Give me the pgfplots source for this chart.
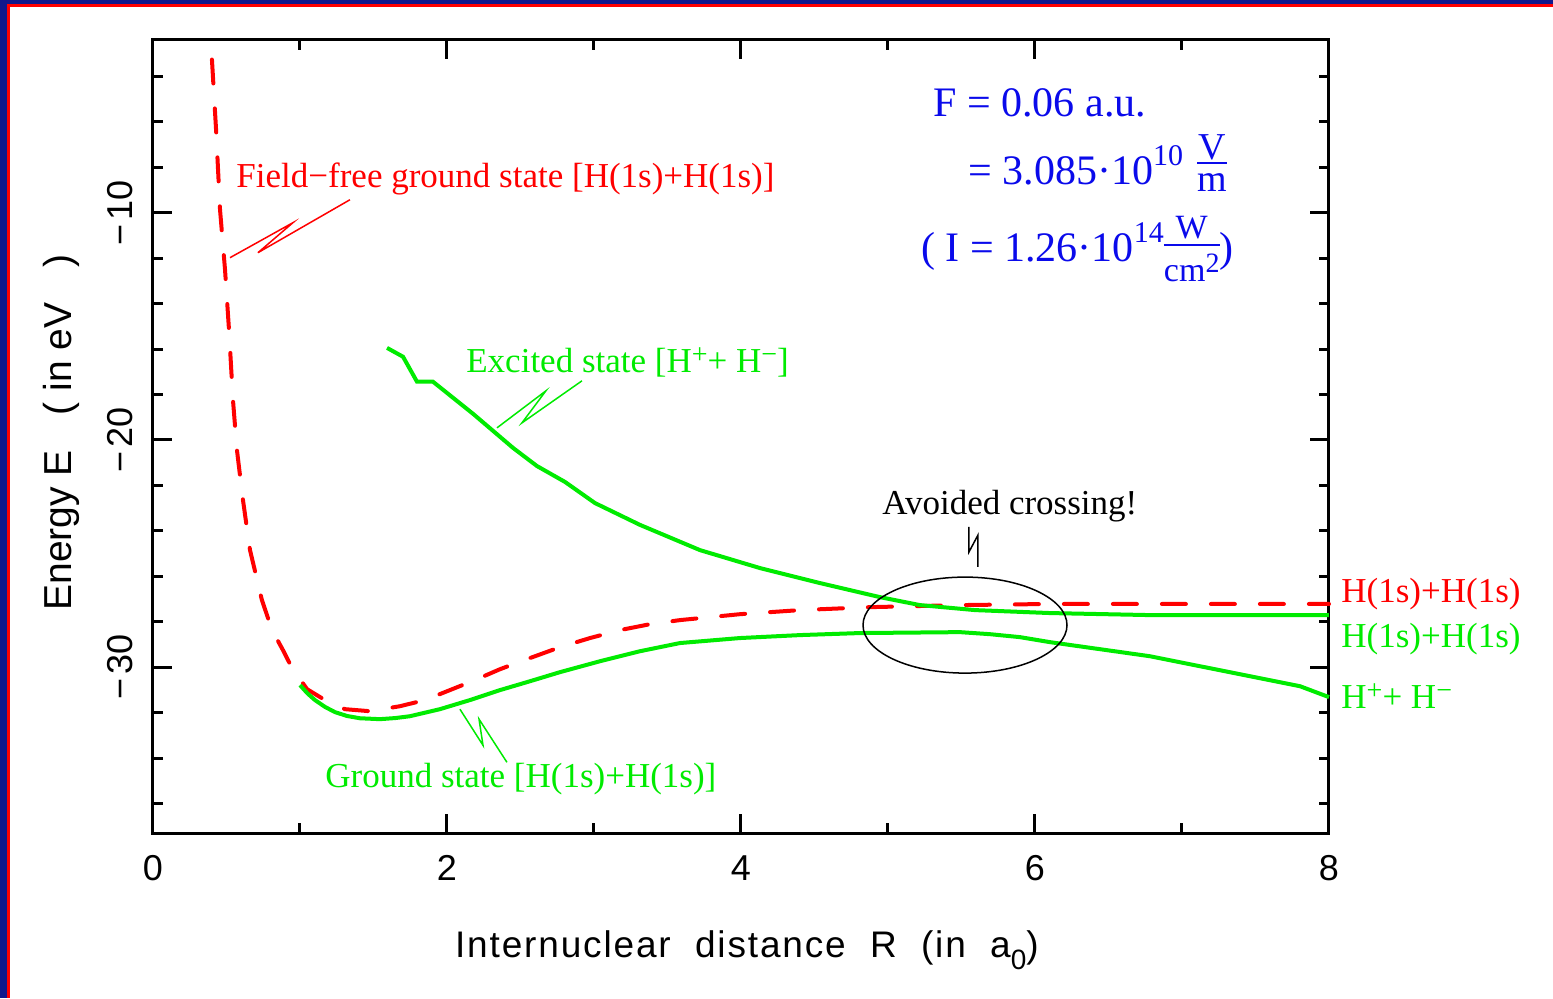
\documentclass[border=0pt]{standalone}
\usepackage{pgfplots}
\pgfplotsset{compat=1.18}
\usepackage{fontspec}
\setmainfont{Liberation Serif}
\newfontfamily\axfont[LetterSpace=5]{Liberation Sans}
\newfontfamily\tickfont{Liberation Sans}
\definecolor{cRed}{RGB}{255,0,0}
\definecolor{cGreen}{RGB}{0,235,0}
\definecolor{cBlue}{RGB}{10,10,235}
\definecolor{cNavy}{RGB}{16,24,140}
\newcommand\ann{\fontsize{17.5}{20}\selectfont}
\newcommand\bigtext{\fontsize{21}{24}\selectfont}
\newcommand\up[2][4.5pt]{\raisebox{#1}{\fontsize{14}{14}\selectfont #2}}
\newcommand\bup[2][9.5pt]{\raisebox{#1}{\fontsize{15}{16}\selectfont #2}}
% stacked fraction: numerator, denominator, numerator raise, bar raise, denominator raise
\newdimen\frw
\newcommand\fr[5]{%
  \setbox0\hbox{#1}\setbox2\hbox{#2}%
  \frw=\wd0 \ifdim\wd2>\frw \frw=\wd2 \fi
  \rlap{\raisebox{#3}{\hbox to\frw{\hss\copy0\hss}}}%
  \rlap{\raisebox{#4}{\rule{\frw}{0.8pt}}}%
  \raisebox{#5}{\hbox to\frw{\hss\copy2\hss}}}

\begin{document}
\begin{tikzpicture}
% page and frame
\useasboundingbox (-76.5pt,-82.5pt) rectangle (700pt,416.5pt);
\fill[white] (-76.5pt,-82.5pt) rectangle (700pt,416.5pt);
\fill[cNavy] (-76.5pt,-82.5pt) rectangle (-73pt,416.5pt);
\fill[cNavy] (-76.5pt,414.5pt) rectangle (700pt,416.5pt);
\fill[cRed] (-73pt,-82.5pt) rectangle (-71.5pt,414.5pt);
\fill[cRed] (-73pt,413pt) rectangle (700pt,414.5pt);

\begin{axis}[
  at={(0,0)}, anchor=south west,
  scale only axis, width=588pt, height=396.5pt,
  xmin=0, xmax=8, ymin=-37.3, ymax=-2.4,
  clip=false,
  axis line style={line width=1.5pt},
  every tick/.style={black, line width=1.5pt},
  tick align=inside,
  major tick length=9.5pt, minor tick length=5pt,
  xtick={0,2,4,6,8}, xticklabels={0,2,4,6,8},
  minor xtick={1,3,5,7},
  ytick={-30,-20,-10},
  yticklabels={−\hspace{2pt}30,−\hspace{2pt}20,−\hspace{2pt}10},
  minor ytick={-36,-34,-32,-28,-26,-24,-22,-18,-16,-14,-12,-8,-6,-4},
  xtick pos=both, ytick pos=both,
  xticklabel pos=lower, yticklabel pos=left,
  xticklabel style={font=\tickfont\fontsize{18}{18}\selectfont, anchor=north, inner sep=0pt},
  xticklabel shift=11pt,
  yticklabel style={font=\tickfont\fontsize{18}{18}\selectfont, rotate=90, anchor=south, inner sep=0pt},
  yticklabel shift=10pt,
  xlabel={Internuclear\ \ distance\ \ R\ \ (in\ \ a\raisebox{-0.3em}{\fontsize{14}{14}\selectfont 0})},
  xlabel style={font=\axfont\fontsize{18.5}{20}\selectfont, at={(axis description cs:0.505,-0.1576)}, anchor=base, inner sep=0pt},
  ylabel={Energy E\hspace{12pt} ( in eV\hspace{12pt} )},
  ylabel style={font=\tickfont\fontsize{19.5}{22}\selectfont, at={(axis description cs:-0.0689,0.505)}, anchor=base, inner sep=0pt},
]

% field-free ground state
\addplot[cRed, line width=2pt, line cap=round, dash pattern=on 12pt off 12.5pt] coordinates {
 (0.401,-3.26) (0.429,-6.34) (0.456,-9.87) (0.490,-12.51) (0.517,-15.15)
 (0.544,-18.24) (0.571,-20.44) (0.612,-22.64) (0.660,-24.85) (0.741,-27.05)
 (0.810,-28.37) (0.884,-29.25) (0.946,-30.04) (1.048,-30.97) (1.170,-31.45)
 (1.306,-31.85) (1.476,-31.94) (1.680,-31.72) (1.850,-31.45) (2.020,-31.01)
 (2.190,-30.57) (2.361,-30.09) (2.565,-29.60) (2.769,-29.12) (2.973,-28.72)
 (3.177,-28.37) (3.381,-28.11) (3.585,-27.93) (3.993,-27.67) (4.401,-27.49)
 (4.878,-27.36) (5.490,-27.27) (6.102,-27.22) (8.000,-27.22)
};

% ground state in the field
\addplot[cGreen, line width=2pt] coordinates {
 (1.000,-30.79) (1.050,-31.15) (1.102,-31.45) (1.170,-31.75) (1.238,-31.98)
 (1.320,-32.15) (1.408,-32.25) (1.544,-32.29) (1.650,-32.24)
 (1.748,-32.16) (1.952,-31.85) (2.156,-31.45) (2.361,-31.01) (2.565,-30.62)
 (2.769,-30.22) (3.041,-29.74) (3.313,-29.30) (3.585,-28.94) (3.993,-28.72)
 (4.401,-28.59) (4.810,-28.50) (5.490,-28.46) (5.694,-28.55) (5.898,-28.68)
 (6.102,-28.90) (6.442,-29.21) (6.782,-29.52) (7.122,-29.96) (7.463,-30.40)
 (7.803,-30.84) (8.000,-31.32)
};

% excited state in the field
\addplot[cGreen, line width=2pt] coordinates {
 (1.592,-15.95) (1.701,-16.34) (1.796,-17.44) (1.905,-17.44) (2.177,-18.85)
 (2.449,-20.35) (2.612,-21.15) (2.803,-21.85) (3.007,-22.78) (3.313,-23.74)
 (3.721,-24.85) (4.129,-25.64) (4.537,-26.30) (4.946,-26.92) (5.218,-27.27)
 (5.592,-27.49) (6.102,-27.62) (6.782,-27.71) (8.000,-27.71)
};

% annotations
\node[anchor=base west, inner sep=0pt, text=cRed, font=\ann] at (axis cs:0.565,-8.90) {Field−free ground state [H(1s)+H(1s)]};
\draw[cRed, line width=0.75pt] (axis cs:1.340,-9.43) -- (axis cs:0.714,-11.76) -- (axis cs:0.952,-10.44) -- (axis cs:0.524,-11.98);

\node[anchor=base west, inner sep=0pt, text=cGreen, font=\ann] at (axis cs:2.129,-17.05) {Excited state [H\up{+}+ H\up{−}]};
\draw[cGreen, line width=0.75pt] (axis cs:2.918,-17.40) -- (axis cs:2.510,-19.25) -- (axis cs:2.673,-17.84) -- (axis cs:2.340,-19.47);

\node[anchor=base west, inner sep=0pt, text=cGreen, font=\ann] at (axis cs:1.170,-35.29) {Ground state [H(1s)+H(1s)]};
\draw[cGreen, line width=0.75pt] (axis cs:2.088,-31.85) -- (axis cs:2.245,-33.44) -- (axis cs:2.218,-32.29) -- (axis cs:2.408,-34.19);

\node[anchor=base west, inner sep=0pt, text=black, font=\ann] at (axis cs:4.959,-23.30) {Avoided crossing!};
\draw[black, line width=0.75pt] (axis cs:5.612,-25.59) -- (axis cs:5.612,-24.19) -- (axis cs:5.551,-24.93) -- (axis cs:5.551,-23.83);
\draw[black, line width=0.75pt] (axis cs:5.524,-28.15) ellipse [x radius=51pt, y radius=24pt];

% asymptotes on the right
\node[anchor=base west, inner sep=0pt, text=cRed, font=\ann] at (axis cs:8.082,-27.14) {H(1s)+H(1s)};
\node[anchor=base west, inner sep=0pt, text=cGreen, font=\ann] at (axis cs:8.082,-29.12) {H(1s)+H(1s)};
\node[anchor=base west, inner sep=0pt, text=cGreen, font=\ann] at (axis cs:8.082,-31.81) {H\up{+}+ H\up{−}};

% field strength
\node[anchor=base west, inner sep=0pt, text=cBlue, font=\bigtext] at (axis cs:5.306,-5.77) {F = 0.06 a.u.};
\node[anchor=base west, inner sep=0pt, text=cBlue, font=\bigtext] at (axis cs:5.544,-8.77)
  {= 3.085·10\bup{10}\hspace{7pt}\fr{\fontsize{19}{19}\selectfont V}{\fontsize{19}{19}\selectfont m}{12.5pt}{10.5pt}{-3.5pt}};
\node[anchor=base west, inner sep=0pt, text=cBlue, font=\bigtext] at (axis cs:5.224,-12.16)
  {( I = 1.26·10\bup{14}\fr{\fontsize{17}{17}\selectfont W}{\fontsize{17}{17}\selectfont cm\raisebox{4.5pt}{\fontsize{14}{14}\selectfont 2}}{11.5pt}{8pt}{-10pt})};
\end{axis}
\end{tikzpicture}
\end{document}
